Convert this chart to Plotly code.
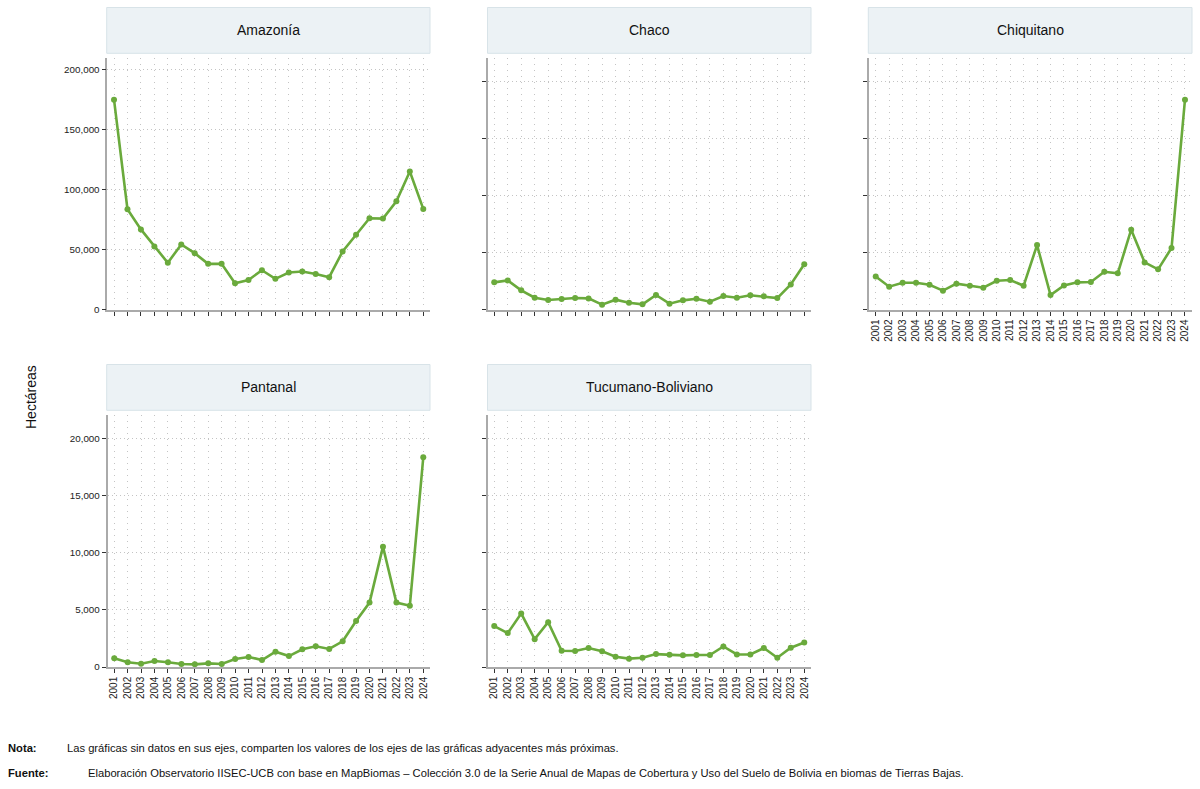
import plotly.graph_objects as go

years = list(range(2001, 2025))
year_labels = [str(y) for y in years]

amazonia = [175000, 83700, 66900, 52700, 39100, 54400, 47100, 38200, 38200, 22000, 24800, 32900,
            25700, 31000, 31800, 29800, 27100, 48500, 62500, 76200, 75900, 90400, 115200, 84000]
chaco = [24000, 25700, 17000, 10500, 8500, 9400, 10200, 9900, 4400, 8800, 6100, 4700,
         12900, 5300, 8200, 9600, 7000, 12000, 10500, 12600, 11700, 10200, 22200, 39800]
chiquitano = [29200, 20200, 23700, 23700, 21900, 16700, 22800, 21100, 19300, 25400, 26000, 21100,
              56700, 12900, 21300, 24000, 24300, 33300, 31900, 70200, 41500, 35400, 54100, 184200]
pantanal = [760, 410, 290, 530, 410, 260, 230, 320, 260, 700, 880, 610,
            1340, 960, 1550, 1810, 1580, 2250, 4030, 5640, 10540, 5640, 5370, 18360]
tucumano = [3580, 2970, 4680, 2440, 3920, 1420, 1400, 1660, 1370, 900, 730, 810,
            1130, 1080, 1020, 1050, 1050, 1800, 1100, 1100, 1660, 810, 1690, 2150]

panel_names = ["Amazonía", "Chaco", "Chiquitano", "Pantanal", "Tucumano-Boliviano"]
panel_values = [amazonia, chaco, chiquitano, pantanal, tucumano]

W, H = 1200, 789
FONT = "Liberation Sans Narrow, Arial Narrow, Liberation Sans, Arial, sans-serif"
GREEN = "#6AAA3C"
GRID = "#C4C4C4"

# panel geometry in pixels: (x0, x1, ytop, ybottom, yrange_max, show_xlabels, show_ylabels)
panels = [
    (107.3, 430.0, 58.3, 309.7, 209500, False, True),
    (487.5, 811.0, 58.3, 309.7, 220500, False, False),
    (869.0, 1191.7, 58.3, 309.7, 220500, True, False),
    (107.5, 430.0, 415.0, 667.0, 22070, True, True),
    (487.5, 811.0, 415.0, 667.0, 22070, True, False),
]
strips = [
    (106.7, 430.0, 7.5, 53.3),
    (487.5, 811.0, 7.5, 53.3),
    (868.3, 1192.0, 7.5, 53.3),
    (106.7, 430.0, 364.5, 410.3),
    (487.5, 811.0, 364.5, 410.3),
]

fig = go.Figure()
layout = dict(
    width=W, height=H,
    margin=dict(l=0, r=0, t=0, b=0, autoexpand=False),
    paper_bgcolor="white", plot_bgcolor="white",
    showlegend=False,
    font=dict(family=FONT, color="#222222"),
)
shapes = []
annotations = []

for i, (name, vals) in enumerate(zip(panel_names, panel_values)):
    x0, x1, yt, yb, ymax, showx, showy = panels[i]
    n = i + 1
    xa = "xaxis" if n == 1 else f"xaxis{n}"
    ya = "yaxis" if n == 1 else f"yaxis{n}"
    xr = "x" if n == 1 else f"x{n}"
    yr = "y" if n == 1 else f"y{n}"
    fig.add_trace(go.Scatter(
        x=years, y=vals, xaxis=xr, yaxis=yr, mode="lines+markers",
        line=dict(color=GREEN, width=2.6),
        marker=dict(color=GREEN, size=6),
        name=name, cliponaxis=False,
    ))
    step = 50000 if ymax > 100000 else 5000
    tv = list(range(0, int(ymax) + 1, step))
    layout[xa] = dict(
        domain=[x0 / W, x1 / W], anchor=yr, automargin=False,
        range=[2000.5, 2024.5],
        tickmode="array", tickvals=years,
        ticktext=year_labels if showx else [""] * len(years),
        tickangle=-90, ticks="outside", ticklen=4, tickwidth=1, tickcolor="#333333",
        showline=True, linecolor="#AAAAAA", linewidth=1.6,
        showgrid=True, gridcolor=GRID, griddash="1px,5px", gridwidth=1,
        zeroline=False,
        tickfont=dict(size=10, family=FONT, color="#222222"),
    )
    layout[ya] = dict(
        domain=[1 - yb / H, 1 - yt / H], anchor=xr, automargin=False,
        range=[0, ymax],
        tickmode="array", tickvals=tv,
        ticktext=[f"{v:,}" for v in tv] if showy else [""] * len(tv),
        ticks="outside", ticklen=4, tickwidth=1, tickcolor="#333333",
        showline=True, linecolor="#AAAAAA", linewidth=1.6,
        showgrid=True, gridcolor=GRID, griddash="1px,3px", gridwidth=1,
        zeroline=False,
        tickfont=dict(size=9.8, family=FONT, color="#222222"),
    )
    sx0, sx1, sy0, sy1 = strips[i]
    shapes.append(dict(
        type="rect", xref="paper", yref="paper",
        x0=sx0 / W, x1=sx1 / W, y0=1 - sy1 / H, y1=1 - sy0 / H,
        fillcolor="#ECF2F5", line=dict(color="#D8E3E8", width=1), layer="below",
    ))
    annotations.append(dict(
        text=name, xref="paper", yref="paper",
        x=(sx0 + sx1) / 2 / W, y=1 - (sy0 + sy1) / 2 / H,
        xanchor="center", yanchor="middle", showarrow=False,
        font=dict(size=14, family=FONT, color="#111111"),
    ))

annotations.append(dict(
    text="Hectáreas", xref="paper", yref="paper", x=31 / W, y=1 - 397 / H,
    xanchor="center", yanchor="middle", textangle=-90, showarrow=False,
    font=dict(size=14, family=FONT, color="#111111"),
))
NOTE = 11.2
annotations += [
    dict(text="<b>Nota:</b>", xref="paper", yref="paper", x=6 / W, y=1 - 748 / H,
         xanchor="left", yanchor="middle", showarrow=False,
         font=dict(size=NOTE, family=FONT, color="#111111")),
    dict(text="Las gráficas sin datos en sus ejes, comparten los valores de los ejes de las gráficas adyacentes más próximas.",
         xref="paper", yref="paper", x=65 / W, y=1 - 748 / H,
         xanchor="left", yanchor="middle", showarrow=False,
         font=dict(size=NOTE, family=FONT, color="#111111")),
    dict(text="<b>Fuente:</b>", xref="paper", yref="paper", x=6 / W, y=1 - 773 / H,
         xanchor="left", yanchor="middle", showarrow=False,
         font=dict(size=NOTE, family=FONT, color="#111111")),
    dict(text="Elaboración Observatorio IISEC-UCB con base en MapBiomas – Colección 3.0 de la Serie Anual de Mapas de Cobertura y Uso del Suelo de Bolivia en biomas de Tierras Bajas.",
         xref="paper", yref="paper", x=86 / W, y=1 - 773 / H,
         xanchor="left", yanchor="middle", showarrow=False,
         font=dict(size=NOTE, family=FONT, color="#111111")),
]

layout["shapes"] = shapes
layout["annotations"] = annotations
fig.update_layout(**layout)
fig.write_html("out.html")
